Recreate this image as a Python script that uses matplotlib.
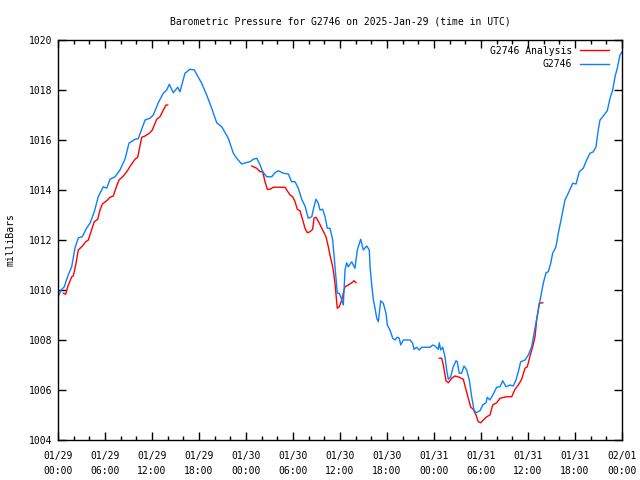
import numpy as np
import matplotlib.pyplot as plt

# hours since 2025-01-29 00:00 UTC, pressure in mb
obs_hours = [0.0, 0.4, 0.8, 1.3, 1.75, 2.17, 2.6, 3.1, 3.66, 4.1, 4.63, 5.14, 5.78, 6.22, 6.64,
             7.28, 7.91, 8.55, 9.06, 9.83, 10.25, 11.11, 11.74, 12.17, 12.8, 13.44, 13.88, 14.21,
             14.72, 15.28, 15.57, 16.21, 16.85, 17.4, 18.34, 18.98, 19.62, 20.26, 20.9, 21.74,
             22.38, 22.81, 23.45, 23.96, 24.51, 24.93, 25.37, 25.7, 26.13, 26.64, 27.28, 27.7,
             28.12, 28.76, 29.4, 29.83, 30.26, 30.68, 31.11, 31.53, 31.95, 32.39, 32.68, 32.94,
             33.23, 33.45, 33.79, 34.09, 34.38, 34.72, 35.07, 35.36, 35.65, 35.91, 36.22, 36.42,
             36.64, 36.85, 37.06, 37.49, 37.91, 38.21, 38.64, 38.97, 39.41, 39.74, 39.83, 40.05,
             40.26, 40.47, 40.69, 40.89, 41.2, 41.53, 41.87, 42.04, 42.38, 42.73, 43.02, 43.32,
             43.57, 43.75, 44.08, 44.94, 45.28, 45.45, 45.79, 46.12, 46.43, 47.49, 47.83, 48.13,
             48.55, 48.68, 48.85, 49.11, 49.4, 49.62, 49.82, 50.13, 50.46, 50.81, 50.97, 51.23,
             51.53, 51.83, 52.17, 52.51, 52.81, 53.11, 53.36, 53.87, 54.22, 54.64, 54.8, 55.15,
             55.57, 56.0, 56.43, 56.77, 57.19, 57.7, 58.12, 58.47, 58.76, 59.07, 59.62, 60.04,
             60.47, 60.89, 61.31, 61.62, 61.95, 62.3, 62.59, 62.9, 63.15, 63.57, 63.87, 64.3,
             64.72, 65.14, 65.71, 66.13, 66.55, 67.06, 67.49, 67.91, 68.34, 68.68, 68.97, 69.19,
             69.61, 70.12, 70.47, 70.81, 71.11, 71.4, 71.74, 72.0]
obs_mb = [1009.71, 1010.0, 1010.13, 1010.6, 1010.93, 1011.68, 1012.09, 1012.13, 1012.48, 1012.68,
          1013.13, 1013.73, 1014.13, 1014.07, 1014.43, 1014.53, 1014.8, 1015.23, 1015.87, 1016.03,
          1016.05, 1016.8, 1016.87, 1017.0, 1017.49, 1017.87, 1018.0, 1018.23, 1017.89, 1018.11,
          1017.93, 1018.67, 1018.83, 1018.8, 1018.27, 1017.8, 1017.27, 1016.69, 1016.53, 1016.07,
          1015.47, 1015.27, 1015.04, 1015.09, 1015.13, 1015.23, 1015.27, 1015.07, 1014.73, 1014.53,
          1014.53, 1014.69, 1014.77, 1014.67, 1014.64, 1014.33, 1014.33, 1014.07, 1013.63, 1013.36,
          1012.87, 1012.93, 1013.33, 1013.63, 1013.47, 1013.2, 1013.23, 1012.93, 1012.47, 1012.47,
          1012.0, 1010.93, 1009.87, 1009.87, 1009.6, 1009.4, 1010.8, 1011.09, 1010.93, 1011.13,
          1010.87, 1011.6, 1012.03, 1011.6, 1011.76, 1011.6, 1010.96, 1010.2, 1009.6, 1009.27,
          1008.87, 1008.73, 1009.57, 1009.47, 1009.07, 1008.6, 1008.4, 1008.07, 1008.0, 1008.11,
          1008.07, 1007.8, 1008.0, 1008.0, 1007.87, 1007.63, 1007.71, 1007.6, 1007.71, 1007.71,
          1007.8, 1007.76, 1007.63, 1007.89, 1007.6, 1007.71, 1007.33, 1006.8, 1006.43, 1006.53,
          1006.93, 1007.17, 1007.13, 1006.67, 1006.67, 1006.96, 1006.8, 1006.4, 1005.73, 1005.2,
          1005.09, 1005.17, 1005.4, 1005.49, 1005.71, 1005.6, 1005.84, 1006.11, 1006.13, 1006.37,
          1006.13, 1006.2, 1006.16, 1006.4, 1006.73, 1007.13, 1007.2, 1007.4, 1007.73, 1008.47,
          1009.2, 1009.73, 1010.27, 1010.69, 1010.73, 1011.07, 1011.47, 1011.73, 1012.27, 1012.93,
          1013.6, 1013.87, 1014.27, 1014.24, 1014.73, 1014.87, 1015.2, 1015.47, 1015.53, 1015.73,
          1016.4, 1016.8, 1016.96, 1017.17, 1017.67, 1018.0, 1018.53, 1018.87, 1019.4, 1019.52]

# analysis has three separate runs
ana1_hours = [0.68, 0.98, 1.24, 1.75, 1.95, 2.26, 2.59, 3.03, 3.54, 3.87, 4.21, 4.63, 5.07, 5.36,
              5.66, 6.22, 6.64, 7.06, 7.49, 7.79, 8.34, 8.77, 9.32, 9.83, 10.17, 10.69, 11.11,
              11.74, 12.04, 12.6, 13.02, 13.44, 13.79, 14.0]
ana1_mb = [1009.87, 1009.83, 1010.13, 1010.53, 1010.56, 1011.0, 1011.6, 1011.73, 1011.93, 1012.0,
           1012.33, 1012.73, 1012.83, 1013.2, 1013.44, 1013.57, 1013.71, 1013.76, 1014.16, 1014.4,
           1014.56, 1014.73, 1015.0, 1015.23, 1015.31, 1016.11, 1016.16, 1016.29, 1016.4, 1016.83,
           1016.93, 1017.2, 1017.4, 1017.4]
ana2_hours = [24.73, 25.37, 25.79, 26.13, 26.43, 26.72, 27.06, 27.49, 28.98, 29.2, 29.62, 29.96,
              30.26, 30.55, 30.89, 31.24, 31.53, 31.83, 32.17, 32.51, 32.68, 32.94, 33.36, 33.79,
              34.21, 34.51, 34.81, 35.07, 35.36, 35.65, 35.91, 36.22, 36.42, 36.64, 37.06, 37.49,
              37.79, 38.04]
ana2_mb = [1014.96, 1014.87, 1014.73, 1014.73, 1014.33, 1014.03, 1014.03, 1014.11, 1014.11, 1014.0,
           1013.8, 1013.73, 1013.53, 1013.23, 1013.17, 1012.8, 1012.47, 1012.29, 1012.33, 1012.43,
           1012.87, 1012.91, 1012.67, 1012.4, 1012.13, 1011.73, 1011.27, 1010.93, 1010.27, 1009.27,
           1009.33, 1009.6, 1009.87, 1010.13, 1010.2, 1010.29, 1010.37, 1010.29]
ana3_hours = [48.68, 48.98, 49.19, 49.53, 49.83, 50.26, 50.68, 51.23, 51.74, 52.09, 52.38, 52.69,
              53.02, 53.36, 53.65, 53.96, 54.29, 54.73, 55.15, 55.49, 56.0, 56.43, 57.28, 57.92,
              58.34, 58.76, 59.19, 59.62, 59.91, 60.26, 60.6, 60.89, 61.11, 61.44, 61.88]
ana3_mb = [1007.27, 1007.27, 1007.0, 1006.37, 1006.29, 1006.47, 1006.56, 1006.51, 1006.43, 1006.0,
           1005.67, 1005.31, 1005.23, 1005.0, 1004.73, 1004.69, 1004.8, 1004.93, 1005.0, 1005.4,
           1005.49, 1005.67, 1005.73, 1005.73, 1006.03, 1006.2, 1006.43, 1006.87, 1006.93, 1007.36,
           1007.73, 1008.13, 1008.8, 1009.47, 1009.49]

tick_labels = ['01/29\n00:00', '01/29\n06:00', '01/29\n12:00', '01/29\n18:00',
               '01/30\n00:00', '01/30\n06:00', '01/30\n12:00', '01/30\n18:00',
               '01/31\n00:00', '01/31\n06:00', '01/31\n12:00', '01/31\n18:00',
               '02/01\n00:00']

plt.rcParams['font.family'] = 'DejaVu Sans Mono'
plt.rcParams['font.size'] = 7

fig = plt.figure(figsize=(6.4, 4.8), dpi=100)
ax = fig.add_axes([58/640, 40/480, 564/640, 400/480])

red = '#ff0000'
blue = '#0a7fff'
for i, (h, p) in enumerate([(ana1_hours, ana1_mb), (ana2_hours, ana2_mb), (ana3_hours, ana3_mb)]):
    ax.plot(h, p, color=red, lw=1, label='G2746 Analysis' if i == 0 else None)
ax.plot(obs_hours, obs_mb, color=blue, lw=1, label='G2746')

ax.set_xlim(0, 72)
ax.set_ylim(1004, 1020)
ax.set_xticks(np.arange(0, 73, 6))
ax.set_xticklabels(tick_labels, linespacing=1.55)
ax.set_xticks(np.arange(0, 73, 2), minor=True)
ax.set_yticks(np.arange(1004, 1021, 2))
ax.tick_params(direction='in', top=True, right=True, length=6, width=1, pad=8, colors='black')
ax.tick_params(which='minor', direction='in', top=True, length=3, width=1)
ax.tick_params(axis='y', pad=4)
for s in ax.spines.values():
    s.set_linewidth(1)

ax.set_ylabel('milliBars', labelpad=10)
ax.set_title('Barometric Pressure for G2746 on 2025-Jan-29 (time in UTC)', fontsize=7, pad=11)

leg = ax.legend(loc='upper right', bbox_to_anchor=(1 - 5/564, 1 + 2/400), frameon=False,
                markerfirst=False, handlelength=3.0, handletextpad=0.8, labelspacing=0.35,
                borderaxespad=0.4)

fig.savefig('out.png', dpi=100)
